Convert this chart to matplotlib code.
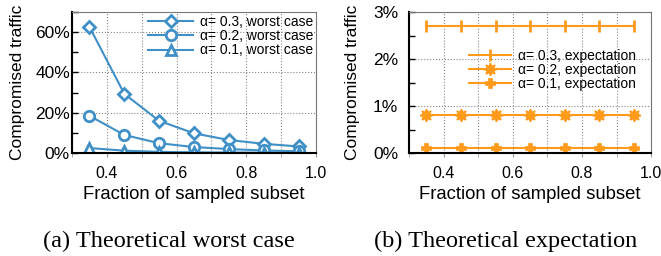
import matplotlib
matplotlib.use("Agg")
import matplotlib.pyplot as plt
from matplotlib.ticker import FuncFormatter, MultipleLocator

plt.rcParams['font.family'] = ['Liberation Sans', 'DejaVu Sans']

# fraction of sampled subset
frac = [0.35, 0.45, 0.55, 0.65, 0.75, 0.85, 0.95]

# worst case compromised traffic (%)
worst_03 = [62.6, 29.4, 16.0, 9.8, 6.5, 4.6, 3.3]
worst_02 = [18.5, 9.0, 4.9, 3.0, 2.0, 1.3, 0.9]
worst_01 = [2.5, 1.2, 0.6, 0.4, 0.3, 0.2, 0.2]

# expectation compromised traffic (%)
exp_03 = [2.7] * 7
exp_02 = [0.8] * 7
exp_01 = [0.1] * 7

blue = '#4090c8'
orange = '#ff9a1a'

fig = plt.figure(figsize=(6.61, 2.56), dpi=100)
ax1 = fig.add_axes([0.109, 0.402, 0.369, 0.551])
ax2 = fig.add_axes([0.619, 0.402, 0.366, 0.551])

ax1.plot(frac, worst_03, color=blue, lw=1.5, marker='D', ms=6.5, mfc='white', mew=2, label='α= 0.3, worst case')
ax1.plot(frac, worst_02, color=blue, lw=1.5, marker='o', ms=7.5, mfc='white', mew=2, label='α= 0.2, worst case')
ax1.plot(frac, worst_01, color=blue, lw=1.5, marker='^', ms=7.5, mfc='white', mew=2, label='α= 0.1, worst case')
ax1.set_ylim(0, 70)
ax1.yaxis.set_major_locator(MultipleLocator(20))
ax1.yaxis.set_minor_locator(MultipleLocator(10))
ax1.yaxis.set_major_formatter(FuncFormatter(lambda v, p: f'{v:.0f}%'))
ax1.legend(loc='upper right', frameon=False, fontsize=10, handlelength=3.2,
           borderaxespad=0.0, borderpad=0.2, labelspacing=0.02, handletextpad=0.5)

ax2.plot(frac, exp_03, color=orange, lw=1.5, marker='|', ms=9, mew=2, label='α= 0.3, expectation')
ax2.plot(frac, exp_02, color=orange, lw=1.5, marker=(8, 1, 0), ms=9, mew=1.2, label='α= 0.2, expectation')
ax2.plot(frac, exp_01, color=orange, lw=1.5, marker='P', ms=7.5, mew=0.5, label='α= 0.1, expectation')
ax2.set_ylim(0, 3)
ax2.yaxis.set_major_locator(MultipleLocator(1))
ax2.yaxis.set_minor_locator(MultipleLocator(0.5))
ax2.yaxis.set_major_formatter(FuncFormatter(lambda v, p: f'{v:.0f}%'))
ax2.legend(loc='center right', bbox_to_anchor=(1.0, 0.59), frameon=False, fontsize=10,
           handlelength=3.0, borderaxespad=0.9, borderpad=0.2, labelspacing=0.02, handletextpad=0.5)

for ax in (ax1, ax2):
    ax.set_xlim(0.3, 1.0)
    ax.xaxis.set_major_locator(MultipleLocator(0.2))
    ax.xaxis.set_minor_locator(MultipleLocator(0.1))
    ax.xaxis.set_major_formatter(FuncFormatter(lambda v, p: f'{v:.1f}'))
    ax.grid(True, which='both', axis='x', ls=':', color='#888888', lw=0.8)
    ax.grid(True, which='major', axis='y', ls=':', color='#888888', lw=0.8)
    ax.set_axisbelow(True)
    ax.tick_params(axis='x', which='both', direction='out', labelsize=11.5, length=3, color='#999999', pad=6)
    ax.spines['left'].set_linewidth(1.5)
    ax.spines['bottom'].set_linewidth(1.5)
    ax.spines['top'].set_color('#777777')
    ax.spines['right'].set_color('#777777')
    ax.spines['top'].set_linewidth(0.8)
    ax.spines['right'].set_linewidth(0.8)
    ax.set_xlabel('Fraction of sampled subset', fontsize=13.3, labelpad=4)
    ax.set_ylabel('Compromised traffic', fontsize=12.5)

ax1.tick_params(axis='y', which='both', direction='in', left=True, right=False, labelsize=12.5, length=4, width=1, pad=1.5)
ax2.tick_params(axis='y', which='both', direction='in', left=True, right=False, labelsize=12.5, length=4, width=1, pad=8)
ax1.yaxis.set_label_coords(-0.193, 0.5)
ax2.yaxis.set_label_coords(-0.202, 0.5)

fig.text(0.256, 0.035, '(a) Theoretical worst case', ha='center', va='baseline',
         fontsize=17.5, family=['Liberation Serif', 'DejaVu Serif'])
fig.text(0.765, 0.035, '(b) Theoretical expectation', ha='center', va='baseline',
         fontsize=17.5, family=['Liberation Serif', 'DejaVu Serif'])

fig.savefig('out.png', dpi=100)
